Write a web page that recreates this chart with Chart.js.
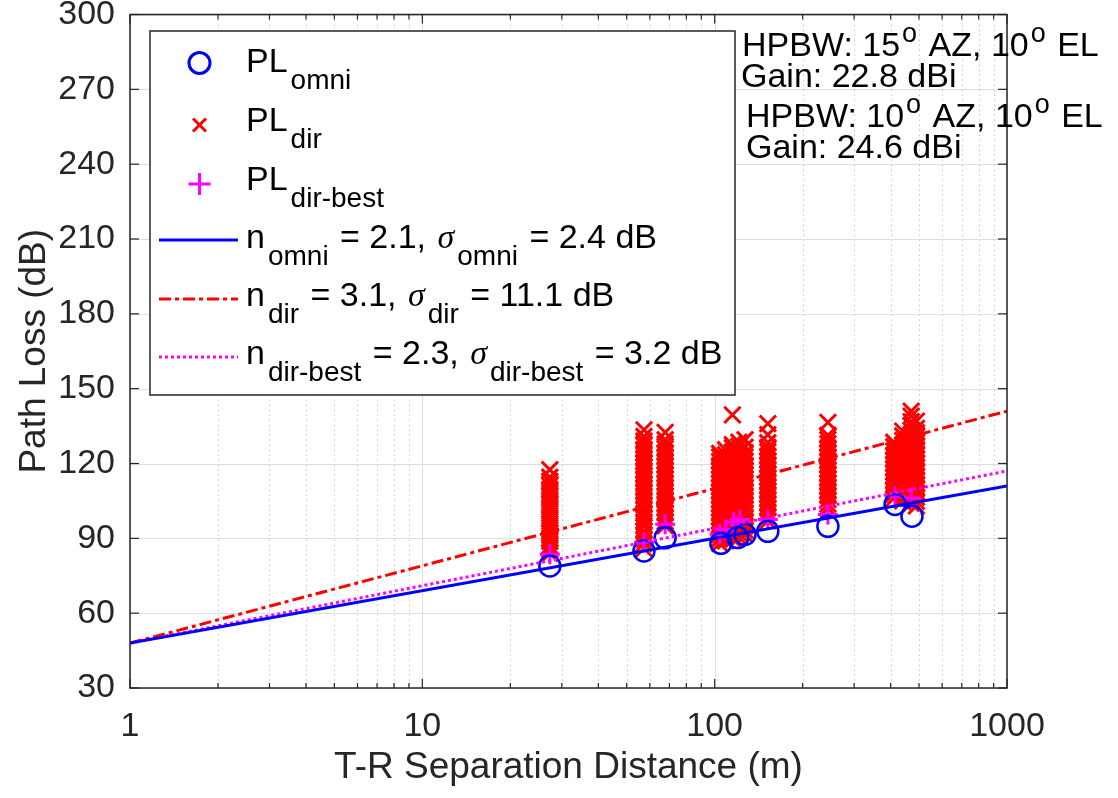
<!DOCTYPE html>
<html>
<head>
<meta charset="utf-8">
<title>Path loss vs T-R separation</title>
<script src="https://cdn.jsdelivr.net/npm/chart.js@4.4.1/dist/chart.umd.min.js"></script>
<style>
  html, body { margin: 0; padding: 0; background: #fff; }
  #wrap { width: 1118px; height: 798px; }
</style>
</head>
<body>
<div id="wrap"><canvas id="plChart" width="1118" height="798"></canvas></div>
<script>
// axis ticks
const xMajorTicks = [1, 10, 100, 1000];
const xMinorTicks = [2, 3, 4, 5, 6, 7, 8, 9, 20, 30, 40, 50, 60, 70, 80, 90, 200, 300, 400, 500, 600, 700, 800, 900];
const yTicks = [30, 60, 90, 120, 150, 180, 210, 240, 270, 300];

// omni path loss (circles)
const omniDist = [27.3, 57.3, 67.7, 105, 120, 127, 152, 244, 414, 473];
const omniPL = [78.9, 84.9, 90.2, 88.0, 90.3, 91.6, 92.8, 94.8, 103.6, 98.9];

// best directional path loss (plus)
const bestDist = [27.3, 57.3, 67.7, 104, 109, 116, 122, 152, 244, 414, 470];
const bestPL = [83.6, 88.3, 95.6, 91.6, 93.5, 96.5, 97.6, 97.6, 99.6, 106.9, 106.2];

// directional path loss (x), one list per distance
const dirDist = [27.3, 57.3, 67.7, 104, 109, 115, 121, 127, 152, 244, 410, 440, 470, 490];
const dirPL27 = [84, 85.5, 87, 88.8, 90.1, 92, 93.4, 95.2, 96.8, 98.1, 100, 101.6, 103.3, 104.7, 106.5, 108, 109.6, 111.2, 112.9, 114.5, 117.5];
const dirPL57 = [86, 88, 89.7, 91.5, 93, 95, 96.6, 98.4, 100, 101.7, 103.5, 105.2, 107, 108.6, 110.3, 112, 113.8, 115.4, 117.1, 118.9, 120.5, 122.2, 124, 125.6, 127.3, 129, 130.8, 133.5];
const dirPL68 = [95, 96.8, 98.5, 100.2, 102, 103.7, 105.4, 107, 108.9, 110.5, 112.3, 114, 115.7, 117.4, 119.2, 120.9, 122.6, 124.3, 126, 127.8, 129.5, 132.5];
const dirPL104 = [88, 89.8, 91.5, 93.2, 95, 96.7, 98.4, 100.1, 101.9, 103.6, 105.3, 107, 108.8, 110.5, 112.2, 113.9, 115.7, 117.4, 119.1, 120.8, 122.6, 124];
const dirPL109 = [89, 90.6, 92.4, 94.1, 95.8, 97.6, 99.3, 101, 102.7, 104.5, 106.2, 107.9, 109.6, 111.4, 113.1, 114.8, 116.5, 118.3, 120, 121.7, 123.5, 125.5];
const dirPL115 = [90, 91.8, 93.5, 95.2, 97, 98.7, 100.4, 102.1, 103.9, 105.6, 107.3, 109, 110.8, 112.5, 114.2, 115.9, 117.7, 119.4, 121.1, 122.8, 124.6, 126.3, 127.5, 139.5];
const dirPL121 = [90.5, 92.2, 94, 95.7, 97.4, 99.2, 100.9, 102.6, 104.3, 106.1, 107.8, 109.5, 111.2, 113, 114.7, 116.4, 118.1, 119.9, 121.6, 123.3, 125, 126.8, 128.5];
const dirPL127 = [91.5, 93.3, 95, 96.7, 98.5, 100.2, 101.9, 103.6, 105.4, 107.1, 108.8, 110.5, 112.3, 114, 115.7, 117.4, 119.2, 120.9, 122.6, 124.3, 126.5, 129.5];
const dirPL152 = [97, 98.8, 100.5, 102.2, 104, 105.7, 107.4, 109.1, 110.9, 112.6, 114.3, 116, 117.8, 119.5, 121.2, 122.9, 124.7, 126.4, 128.3, 131.5, 136];
const dirPL244 = [102, 103.7, 105.5, 107.2, 108.9, 110.6, 112.4, 114.1, 115.8, 117.5, 119.3, 121, 122.7, 124.4, 126.2, 127.9, 129.6, 131.3, 136.5];
const dirPL410 = [106, 107.7, 109.5, 111.2, 112.9, 114.6, 116.4, 118.1, 119.8, 121.5, 123.3, 125, 126.7, 128.5];
const dirPL440 = [105, 106.8, 108.5, 110.2, 112, 113.7, 115.4, 117.1, 118.9, 120.6, 122.3, 124, 125.8, 127.5, 129.2, 131, 133];
const dirPL470 = [104, 105.7, 107.5, 109.2, 110.9, 112.6, 114.4, 116.1, 117.8, 119.5, 121.3, 123, 124.7, 126.4, 128.2, 129.9, 131.6, 133.3, 135.1, 136.8, 139, 141];
const dirPL490 = [103, 104.8, 106.5, 108.2, 110, 111.7, 113.4, 115.1, 116.9, 118.6, 120.3, 122, 123.8, 125.5, 127.2, 128.9, 130.7, 132.4, 134.1, 137];
const dirPLByDist = [dirPL27, dirPL57, dirPL68, dirPL104, dirPL109, dirPL115, dirPL121, dirPL127, dirPL152, dirPL244, dirPL410, dirPL440, dirPL470, dirPL490];

// fitted lines (1 m to 1000 m)
const fitDist = [1, 1000];
const omniFit = [48, 111];
const dirFit = [48, 141];
const bestFit = [48, 117];

const FONT = "'Liberation Sans', Arial, Helvetica, sans-serif";
const MAIN = "34px " + FONT;
const SUB = "28px " + FONT;
const SUP = "27px " + FONT;
const SIGMA = "italic 34px 'Liberation Serif', 'DejaVu Serif', serif";

function toPoints(xs, ys) {
    return xs.map((d, i) => ({ x: d, y: ys[i] }));
}

const dirPoints = [];
dirDist.forEach((d, i) => {
    dirPLByDist[i].forEach(v => dirPoints.push({ x: d, y: v }));
});

// draws a text made of pieces (normal, subscript, superscript, greek)
function drawRich(ctx, x, baseline, parts) {
    let cx = x;
    parts.forEach(p => {
        const kind = p[1] || 'n';
        let dy = 0;
        if (kind === 's') { ctx.font = SUB; dy = 17; cx += 3; }
        else if (kind === 'u') { ctx.font = SUP; dy = -14; cx += 2; }
        else if (kind === 'g') { ctx.font = SIGMA; cx += 2; }
        else ctx.font = MAIN;
        ctx.fillText(p[0], cx, baseline + dy);
        cx += ctx.measureText(p[0]).width;
        if (kind === 's' || kind === 'u') cx += 2;
    });
}

function strokeLine(ctx, x1, y1, x2, y2) {
    ctx.beginPath();
    ctx.moveTo(x1, y1);
    ctx.lineTo(x2, y2);
    ctx.stroke();
}

const matlabFrame = {
    id: 'matlabFrame',
    beforeDatasetsDraw(chart) {
        const { ctx, chartArea: a, scales: { x, y } } = chart;
        ctx.save();
        ctx.lineWidth = 1;
        // minor grid (dotted)
        ctx.strokeStyle = '#c8c8c8';
        ctx.setLineDash([1.5, 3.5]);
        xMinorTicks.forEach(v => {
            const px = Math.round(x.getPixelForValue(v)) + 0.5;
            strokeLine(ctx, px, a.top, px, a.bottom);
        });
        // major grid
        ctx.setLineDash([]);
        ctx.strokeStyle = '#dedede';
        xMajorTicks.forEach(v => {
            const px = Math.round(x.getPixelForValue(v)) + 0.5;
            strokeLine(ctx, px, a.top, px, a.bottom);
        });
        yTicks.forEach(v => {
            const py = Math.round(y.getPixelForValue(v)) + 0.5;
            strokeLine(ctx, a.left, py, a.right, py);
        });
        ctx.restore();
    },
    afterDatasetsDraw(chart) {
        const { ctx, chartArea: a, scales: { x, y } } = chart;
        ctx.save();
        ctx.strokeStyle = '#262626';
        ctx.lineWidth = 1.5;
        ctx.strokeRect(a.left, a.top, a.right - a.left, a.bottom - a.top);
        ctx.lineWidth = 1.2;
        yTicks.forEach(v => {
            const py = y.getPixelForValue(v);
            strokeLine(ctx, a.left, py, a.left + 9, py);
            strokeLine(ctx, a.right, py, a.right - 9, py);
        });
        xMajorTicks.forEach(v => {
            const px = x.getPixelForValue(v);
            strokeLine(ctx, px, a.bottom, px, a.bottom - 9);
            strokeLine(ctx, px, a.top, px, a.top + 9);
        });
        xMinorTicks.forEach(v => {
            const px = x.getPixelForValue(v);
            strokeLine(ctx, px, a.bottom, px, a.bottom - 5);
            strokeLine(ctx, px, a.top, px, a.top + 5);
        });
        ctx.restore();
    },
    afterDraw(chart) {
        const ctx = chart.ctx;
        ctx.save();
        // legend box
        ctx.fillStyle = '#ffffff';
        ctx.fillRect(150, 31, 585, 364);
        ctx.strokeStyle = '#262626';
        ctx.lineWidth = 1.5;
        ctx.strokeRect(150, 31, 585, 364);

        // legend symbols
        ctx.lineWidth = 3;
        ctx.strokeStyle = '#0000ff';
        ctx.beginPath();
        ctx.arc(199.5, 63, 10.5, 0, Math.PI * 2);
        ctx.stroke();
        ctx.strokeStyle = '#ff0000';
        strokeLine(ctx, 193, 118.5, 206, 131.5);
        strokeLine(ctx, 206, 118.5, 193, 131.5);
        ctx.strokeStyle = '#ff00ff';
        strokeLine(ctx, 188.5, 184, 210.5, 184);
        strokeLine(ctx, 199.5, 173, 199.5, 195);
        ctx.strokeStyle = '#0000ff';
        strokeLine(ctx, 159, 240, 238, 240);
        ctx.strokeStyle = '#ff0000';
        ctx.setLineDash([12, 4, 4, 4]);
        strokeLine(ctx, 159, 299, 238, 299);
        ctx.strokeStyle = '#ff00ff';
        ctx.setLineDash([3, 3]);
        strokeLine(ctx, 159, 357, 238, 357);
        ctx.setLineDash([]);

        // legend texts
        ctx.fillStyle = '#000000';
        ctx.textAlign = 'left';
        ctx.textBaseline = 'alphabetic';
        drawRich(ctx, 246, 72, [['PL'], ['omni', 's']]);
        drawRich(ctx, 246, 131, [['PL'], ['dir', 's']]);
        drawRich(ctx, 246, 190, [['PL'], ['dir-best', 's']]);
        drawRich(ctx, 246, 248, [['n'], ['omni', 's'], [' = 2.1, '], ['\u03c3', 'g'], ['omni', 's'], [' = 2.4 dB']]);
        drawRich(ctx, 246, 306, [['n'], ['dir', 's'], [' = 3.1, '], ['\u03c3', 'g'], ['dir', 's'], [' = 11.1 dB']]);
        drawRich(ctx, 246, 364, [['n'], ['dir-best', 's'], [' = 2.3, '], ['\u03c3', 'g'], ['dir-best', 's'], [' = 3.2 dB']]);

        // antenna notes
        drawRich(ctx, 742, 56, [['HPBW: 15'], ['o', 'u'], [' AZ, 10'], ['o', 'u'], [' EL']]);
        drawRich(ctx, 741, 87, [['Gain: 22.8 dBi']]);
        drawRich(ctx, 746, 127, [['HPBW: 10'], ['o', 'u'], [' AZ, 10'], ['o', 'u'], [' EL']]);
        drawRich(ctx, 746, 158, [['Gain: 24.6 dBi']]);
        ctx.restore();
    }
};

const isMajor = v => xMajorTicks.some(t => Math.abs(t - v) < 1e-6 * t);

const ctx = document.getElementById('plChart').getContext('2d');
const chart = new Chart(ctx, {
    type: 'scatter',
    data: {
        datasets: [
            {
                label: 'n_omni fit',
                data: toPoints(fitDist, omniFit),
                showLine: true,
                borderColor: '#0000ff',
                borderWidth: 3,
                pointRadius: 0,
                order: 0
            },
            {
                label: 'n_dir fit',
                data: toPoints(fitDist, dirFit),
                showLine: true,
                borderColor: '#ff0000',
                borderWidth: 3,
                borderDash: [12, 4, 4, 4],
                pointRadius: 0,
                order: 0
            },
            {
                label: 'n_dir-best fit',
                data: toPoints(fitDist, bestFit),
                showLine: true,
                borderColor: '#ff00ff',
                borderWidth: 3,
                borderDash: [3, 3],
                pointRadius: 0,
                order: 0
            },
            {
                label: 'PL omni',
                data: toPoints(omniDist, omniPL),
                pointStyle: 'circle',
                pointRadius: 10.5,
                pointBorderWidth: 2.5,
                borderColor: '#0000ff',
                backgroundColor: 'rgba(0,0,0,0)',
                order: 1
            },
            {
                label: 'PL dir-best',
                data: toPoints(bestDist, bestPL),
                pointStyle: 'cross',
                pointRadius: 10,
                pointBorderWidth: 3,
                borderColor: '#ff00ff',
                backgroundColor: '#ff00ff',
                order: 2
            },
            {
                label: 'PL dir',
                data: dirPoints,
                pointStyle: 'crossRot',
                pointRadius: 11.5,
                pointBorderWidth: 3,
                borderColor: '#ff0000',
                backgroundColor: '#ff0000',
                order: 3
            }
        ]
    },
    options: {
        responsive: false,
        animation: false,
        events: [],
        layout: { padding: { top: 10, right: 111, left: 0, bottom: 0 } },
        plugins: {
            legend: { display: false },
            tooltip: { enabled: false }
        },
        scales: {
            x: {
                type: 'logarithmic',
                position: 'bottom',
                min: 1,
                max: 1000,
                afterBuildTicks: s => {
                    s.ticks = xMajorTicks.concat(xMinorTicks).sort((a, b) => a - b).map(v => ({ value: v }));
                },
                afterFit: s => {
                    s.height = 110;
                    s.paddingLeft = 0;
                    s.paddingRight = 0;
                },
                grid: { display: false, drawTicks: false },
                border: { display: false },
                ticks: {
                    autoSkip: false,
                    maxRotation: 0,
                    minRotation: 0,
                    padding: 18,
                    color: '#262626',
                    font: { family: FONT, size: 34 },
                    callback: v => isMajor(v) ? String(Math.round(v)) : ''
                },
                title: {
                    display: true,
                    text: 'T-R Separation Distance (m)',
                    color: '#262626',
                    font: { family: FONT, size: 37 },
                    padding: { top: 0, bottom: 8 }
                }
            },
            y: {
                min: 30,
                max: 300,
                afterBuildTicks: s => {
                    s.ticks = yTicks.map(v => ({ value: v }));
                },
                afterFit: s => {
                    s.width = 130;
                    s.paddingTop = 0;
                    s.paddingBottom = 0;
                },
                grid: { display: false, drawTicks: false },
                border: { display: false },
                ticks: {
                    padding: 15,
                    color: '#262626',
                    font: { family: FONT, size: 34 }
                },
                title: {
                    display: true,
                    text: 'Path Loss (dB)',
                    color: '#262626',
                    font: { family: FONT, size: 37 },
                    padding: { top: 13, bottom: 0 }
                }
            }
        }
    },
    plugins: [matlabFrame]
});
</script>
</body>
</html>
